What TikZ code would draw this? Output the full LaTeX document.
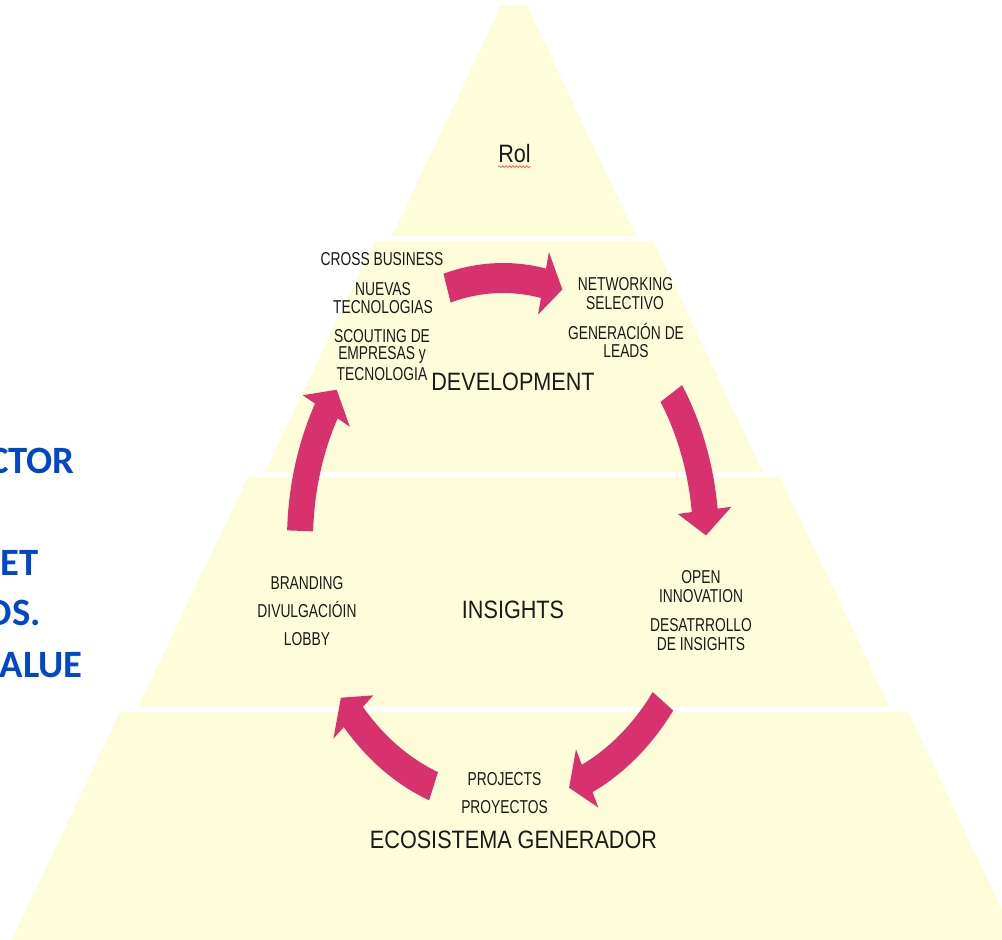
\documentclass[tikz,border=0pt]{standalone}
\usepackage{fontspec}
\setmainfont{Liberation Sans}
\newfontfamily\lblfont{Liberation Sans}[FakeStretch=0.74]
\newfontfamily\bigfont{Liberation Sans}[FakeStretch=0.86]
\newfontfamily\bluefont{Carlito}
\usetikzlibrary{decorations.pathmorphing}
\definecolor{pyr}{RGB}{253,254,217}
\definecolor{pinkc}{RGB}{215,50,110}
\definecolor{txtc}{RGB}{26,26,26}
\definecolor{bluec}{RGB}{0,71,204}
\definecolor{squig}{RGB}{240,100,100}
\tikzset{
  layer/.style={fill=pyr, draw=none},
  cyc/.style={fill=pinkc, draw=none},
  lbl/.style={font=\lblfont\fontsize{14}{14}\selectfont, text=txtc, inner sep=0pt, anchor=base},
  big/.style={font=\bigfont\fontsize{18.85}{19}\selectfont, text=txtc, inner sep=0pt, anchor=base},
  bluetxt/.style={font=\bluefont\bfseries\fontsize{29}{29}\selectfont, text=bluec, inner sep=0pt, anchor=base east}
}
\begin{document}
\begin{tikzpicture}[x=0.75pt, y=-0.75pt]
\useasboundingbox (0,0) rectangle (1002,939);
\clip (0,0) rectangle (1002,939);
% pyramid layers
\fill[layer] (501,6) -- (527,6) -- (636,236) -- (392,236) -- cycle;
\fill[layer] (375,241) -- (653,241) -- (763,472) -- (265,472) -- cycle;
\fill[layer] (248,477) -- (780,477) -- (890,707) -- (138,707) -- cycle;
\fill[layer] (120,712) -- (908,712) -- (1021,950) -- (7,950) -- cycle;
% cycle arrows
\foreach \i in {0,...,4}{
  \pgfmathsetmacro\ta{254+72*\i}
  \pgfmathsetmacro\tb{\ta+27.5}
  \pgfmathsetmacro\tc{\ta+33}
  \fill[cyc] plot[domain=\ta:\tb, samples=40] ({503+216*cos(\x)},{540+277*sin(\x)})
    -- ({503+230*cos(\tb)},{540+294*sin(\tb)})
    -- ({503+203*cos(\tc)},{540+262*sin(\tc)})
    -- ({503+176*cos(\tb)},{540+230*sin(\tb)})
    -- plot[domain=\tb:\ta, samples=40] ({503+190*cos(\x)},{540+247*sin(\x)})
    -- cycle;
}
% top
\node[big] (rol) at (514.5,162) {Rol};
\draw[squig, line width=0.6pt, decorate, decoration={snake, amplitude=0.7pt, segment length=2.6pt}]
  ([yshift=-3.5pt]rol.base west) -- ([yshift=-3.5pt]rol.base east);
% development
\node[lbl] (cb) at (382,265) {CROSS BUSINESS};
\node[lbl] (nv) at (383,295) {NUEVAS};
\node[lbl] (tc) at (383,313) {TECNOLOGIAS};
\node[lbl] (sc) at (382,342) {SCOUTING DE};
\node[lbl] (em) at (382,359) {EMPRESAS y};
\node[lbl] (tg) at (382,380) {TECNOLOGIA};
\node[big] (dev) at (513,390) {DEVELOPMENT};
\node[lbl] (nw) at (625.5,290) {NETWORKING};
\node[lbl] (se) at (625,309) {SELECTIVO};
\node[lbl] (ge) at (626,339) {GENERACIÓN DE};
\node[lbl] (le) at (626,357) {LEADS};
% insights
\node[lbl] (br) at (307,589) {BRANDING};
\node[lbl] (dv) at (307,617) {DIVULGACIÓIN};
\node[lbl] (lo) at (307,645) {LOBBY};
\node[big] (ins) at (513,618) {INSIGHTS};
\node[lbl] (op) at (701,583) {OPEN};
\node[lbl] (inn) at (701,602) {INNOVATION};
\node[lbl] (de) at (701,631) {DESATRROLLO};
\node[lbl] (di) at (701,650) {DE INSIGHTS};
% ecosistema
\node[lbl] (pj) at (504.5,785) {PROJECTS};
\node[lbl] (py) at (504.5,813) {PROYECTOS};
\node[big] (eco) at (513.5,848) {ECOSISTEMA GENERADOR};
% cut-off blue text at the left edge
\node[bluetxt] (b1) at (75,473) {CTOR};
\node[bluetxt] (b2) at (39,575) {ET};
\node[bluetxt] (b3) at (41,625) {DS.};
\node[bluetxt] (b4) at (83,677) {ALUE};
\end{tikzpicture}
\end{document}
